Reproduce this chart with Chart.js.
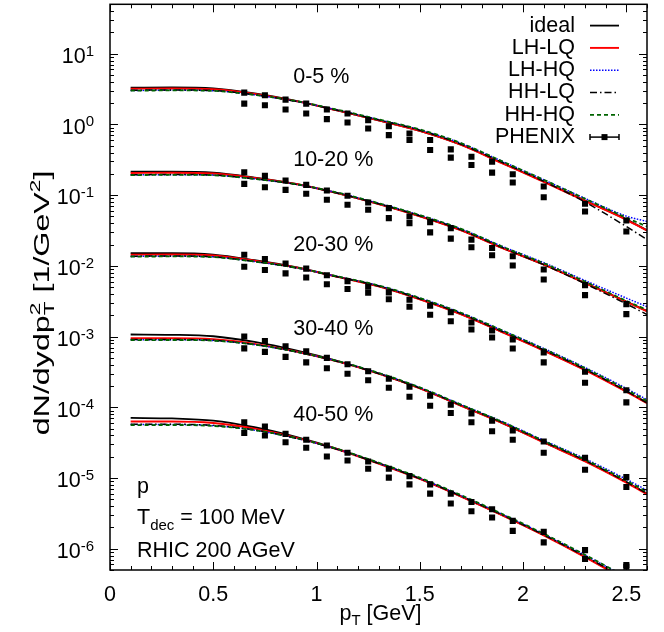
<!DOCTYPE html>
<html><head><meta charset="utf-8"><title>p spectra</title>
<script src="https://cdn.jsdelivr.net/npm/chart.js@4/dist/chart.umd.min.js"></script>
<style>html,body{margin:0;padding:0;background:#fff;overflow:hidden}canvas{display:block}</style>
</head><body>
<canvas id="chart" width="664" height="632"></canvas>
<script>
// ---------------- data ----------------
const pT = [0.1, 0.3, 0.5, 0.7, 0.9, 1.1, 1.3, 1.5, 1.7, 1.9, 2.1, 2.3, 2.5, 2.6];
const centralityLabels = ['0-5 %', '10-20 %', '20-30 %', '30-40 %', '40-50 %'];
const modelNames = ['ideal', 'LH-LQ', 'LH-HQ', 'HH-LQ', 'HH-HQ'];
const dataName = 'PHENIX';

// 0-5 %
const ideal_0_5 = [3.31, 3.33, 3.23, 2.74, 2.15, 1.58, 1.14, 0.813, 0.516, 0.284, 0.156, 0.084, 0.0454, 0.0318];
const lhlq_0_5  = [3.20, 3.22, 3.14, 2.70, 2.14, 1.58, 1.14, 0.810, 0.513, 0.281, 0.154, 0.083, 0.0448, 0.0316];
const lhhq_0_5  = [3.02, 3.05, 3.00, 2.62, 2.12, 1.60, 1.17, 0.840, 0.540, 0.300, 0.165, 0.090, 0.0505, 0.0425];
const hhlq_0_5  = [3.05, 3.07, 3.01, 2.62, 2.12, 1.59, 1.16, 0.830, 0.525, 0.290, 0.157, 0.080, 0.0360, 0.0235];
const hhhq_0_5  = [3.00, 3.03, 2.98, 2.62, 2.14, 1.62, 1.18, 0.850, 0.545, 0.300, 0.165, 0.089, 0.0480, 0.0360];
// 10-20 %
const ideal_10_20 = [0.215, 0.215, 0.208, 0.177, 0.144, 0.107, 0.0750, 0.0505, 0.0320, 0.0179, 0.01044, 0.00575, 0.00313, 0.00230];
const lhlq_10_20  = [0.206, 0.207, 0.202, 0.175, 0.144, 0.107, 0.0750, 0.0503, 0.0318, 0.0178, 0.01040, 0.00572, 0.00310, 0.00228];
const lhhq_10_20  = [0.193, 0.195, 0.192, 0.170, 0.142, 0.108, 0.0765, 0.0520, 0.0332, 0.0188, 0.01110, 0.00620, 0.00350, 0.00265];
const hhlq_10_20  = [0.194, 0.196, 0.192, 0.170, 0.142, 0.107, 0.0755, 0.0510, 0.0323, 0.0181, 0.01040, 0.00560, 0.00290, 0.00205];
const hhhq_10_20  = [0.192, 0.194, 0.191, 0.170, 0.143, 0.109, 0.0770, 0.0523, 0.0334, 0.0187, 0.01090, 0.00600, 0.00320, 0.00238];
// 20-30 %
const ideal_20_30 = [0.0151, 0.0151, 0.0144, 0.0120, 0.00957, 0.00703, 0.00516, 0.00339, 0.00208, 0.00116, 0.000638, 0.000339, 0.000169, 0.000116];
const lhlq_20_30  = [0.0144, 0.0145, 0.0140, 0.0118, 0.00950, 0.00700, 0.00514, 0.00337, 0.00206, 0.00115, 0.000632, 0.000336, 0.000166, 0.000114];
const lhhq_20_30  = [0.0136, 0.0137, 0.0134, 0.0115, 0.00940, 0.00705, 0.00525, 0.00350, 0.00216, 0.00122, 0.000680, 0.000365, 0.000185, 0.000128];
const hhlq_20_30  = [0.0137, 0.0138, 0.0134, 0.0115, 0.00935, 0.00700, 0.00518, 0.00343, 0.00211, 0.00118, 0.000650, 0.000345, 0.000170, 0.000115];
const hhhq_20_30  = [0.0135, 0.0136, 0.0133, 0.0115, 0.00945, 0.00712, 0.00530, 0.00352, 0.00217, 0.00122, 0.000670, 0.000358, 0.000178, 0.000123];
// 30-40 %
const ideal_30_40 = [1.07e-3, 1.06e-3, 1.01e-3, 8.40e-4, 6.38e-4, 4.54e-4, 3.02e-4, 1.86e-4, 1.054e-4, 5.98e-5, 3.21e-5, 1.74e-5, 8.76e-6, 6.02e-6];
const lhlq_30_40  = [9.50e-4, 9.50e-4, 9.20e-4, 7.90e-4, 6.15e-4, 4.45e-4, 2.99e-4, 1.85e-4, 1.050e-4, 5.95e-5, 3.18e-5, 1.72e-5, 8.60e-6, 5.90e-6];
const lhhq_30_40  = [9.00e-4, 9.05e-4, 8.80e-4, 7.70e-4, 6.10e-4, 4.48e-4, 3.04e-4, 1.90e-4, 1.090e-4, 6.25e-5, 3.40e-5, 1.87e-5, 9.60e-6, 6.70e-6];
const hhlq_30_40  = [9.10e-4, 9.10e-4, 8.85e-4, 7.70e-4, 6.08e-4, 4.45e-4, 3.00e-4, 1.87e-4, 1.070e-4, 6.10e-5, 3.28e-5, 1.77e-5, 8.80e-6, 6.00e-6];
const hhhq_30_40  = [8.90e-4, 8.95e-4, 8.75e-4, 7.70e-4, 6.12e-4, 4.52e-4, 3.07e-4, 1.91e-4, 1.090e-4, 6.20e-5, 3.35e-5, 1.82e-5, 9.20e-6, 6.40e-6];
// 40-50 %
const ideal_40_50 = [7.07e-5, 6.96e-5, 6.48e-5, 5.22e-5, 3.82e-5, 2.59e-5, 1.62e-5, 9.78e-6, 5.51e-6, 2.98e-6, 1.56e-6, 7.69e-7, 3.61e-7, 2.45e-7];
const lhlq_40_50  = [6.30e-5, 6.30e-5, 6.00e-5, 5.00e-5, 3.72e-5, 2.55e-5, 1.60e-5, 9.70e-6, 5.46e-6, 2.95e-6, 1.54e-6, 7.60e-7, 3.55e-7, 2.40e-7];
const lhhq_40_50  = [5.70e-5, 5.70e-5, 5.50e-5, 4.75e-5, 3.65e-5, 2.55e-5, 1.62e-5, 9.90e-6, 5.62e-6, 3.06e-6, 1.61e-6, 8.10e-7, 3.90e-7, 2.65e-7];
const hhlq_40_50  = [5.75e-5, 5.75e-5, 5.55e-5, 4.78e-5, 3.65e-5, 2.54e-5, 1.61e-5, 9.80e-6, 5.55e-6, 3.00e-6, 1.57e-6, 7.80e-7, 3.70e-7, 2.50e-7];
const hhhq_40_50  = [5.60e-5, 5.62e-5, 5.45e-5, 4.75e-5, 3.68e-5, 2.58e-5, 1.65e-5, 1.01e-5, 5.72e-6, 3.10e-6, 1.63e-6, 8.20e-7, 3.95e-7, 2.70e-7];

// PHENIX data (two points per pT bin)
const pTPhenix = [0.65, 0.75, 0.85, 0.95, 1.05, 1.15, 1.25, 1.35, 1.45, 1.55, 1.65, 1.75, 1.85, 1.95, 2.1, 2.3, 2.5];
const phenixA_0_5 = [2.82, 2.59, 2.245, 1.972, 1.623, 1.425, 1.151, 0.941, 0.745, 0.602, 0.4435, 0.350, 0.2976, 0.197, 0.1322, 0.0755, 0.0439];
const phenixB_0_5 = [1.972, 1.872, 1.623, 1.425, 1.189, 1.065, 0.877, 0.707, 0.602, 0.435, 0.339, 0.2675, 0.2083, 0.1506, 0.0935, 0.0588, 0.0307];
const phenixA_10_20 = [0.2103, 0.1872, 0.1607, 0.1398, 0.1162, 0.0978, 0.0787, 0.0655, 0.0500, 0.0416, 0.0342, 0.02349, 0.01789, 0.01366, 0.00888, 0.00534, 0.00288];
const phenixB_10_20 = [0.1444, 0.1293, 0.1189, 0.1044, 0.0859, 0.0731, 0.0621, 0.0473, 0.0402, 0.02976, 0.02426, 0.0183, 0.01411, 0.0101, 0.00642, 0.00386, 0.00208];
const phenixA_20_30 = [0.01435, 0.01252, 0.01082, 0.00914, 0.00736, 0.00609, 0.00506, 0.00422, 0.00331, 0.00273, 0.00221, 0.00158, 0.00122, 0.000908, 0.000598, 0.000318, 0.000174];
const phenixB_20_30 = [0.00972, 0.00876, 0.00782, 0.00683, 0.00549, 0.00470, 0.00417, 0.00337, 0.00264, 0.002036, 0.00165, 0.00126, 0.000972, 0.000679, 0.000432, 0.000222, 0.0001173];
const phenixA_30_40 = [1.004e-3, 8.68e-4, 7.26e-4, 6.17e-4, 5.00e-4, 4.05e-4, 3.23e-4, 2.53e-4, 1.952e-4, 1.458e-4, 1.089e-4, 8.21e-5, 6.48e-5, 4.69e-5, 3.28e-5, 1.933e-5, 1.03e-5];
const phenixB_30_40 = [6.81e-4, 6.07e-4, 5.16e-4, 4.32e-4, 3.56e-4, 2.975e-4, 2.41e-4, 1.89e-4, 1.411e-4, 1.054e-4, 8.32e-5, 6.13e-5, 4.58e-5, 3.47e-5, 2.27e-5, 1.31e-5, 7.45e-6];
const phenixA_40_50 = [6.13e-5, 5.34e-5, 4.21e-5, 3.47e-5, 2.88e-5, 2.27e-5, 1.714e-5, 1.353e-5, 1.064e-5, 8.13e-6, 6.02e-6, 4.58e-6, 3.62e-6, 2.474e-6, 1.731e-6, 9.56e-7, 5.88e-7];
const phenixB_40_50 = [4.35e-5, 3.99e-5, 3.21e-5, 2.675e-5, 2.016e-5, 1.771e-5, 1.353e-5, 1.011e-5, 8.13e-6, 6.02e-6, 4.35e-6, 3.39e-6, 2.76e-6, 1.789e-6, 1.228e-6, 7.14e-7, 5.56e-7];

// axis ticks
const xTickLabels = [0, 0.5, 1, 1.5, 2, 2.5];
const yTickExponents = [1, 0, -1, -2, -3, -4, -5, -6];

// centrality label anchors (pT, value)
const centralityLabelX = 0.887;
const centralityLabelY = [4.69, 0.309, 0.0198, 1.28e-3, 7.8e-5];

// ---------------- chart ----------------
const FONT = '"Liberation Sans", Arial, Helvetica, sans-serif';
const FS = 21.5, FS_SMALL = 15;
const fnt = s => s + 'px ' + FONT;

const curveSets = [
  [ideal_0_5, lhlq_0_5, lhhq_0_5, hhlq_0_5, hhhq_0_5],
  [ideal_10_20, lhlq_10_20, lhhq_10_20, hhlq_10_20, hhhq_10_20],
  [ideal_20_30, lhlq_20_30, lhhq_20_30, hhlq_20_30, hhhq_20_30],
  [ideal_30_40, lhlq_30_40, lhhq_30_40, hhlq_30_40, hhhq_30_40],
  [ideal_40_50, lhlq_40_50, lhhq_40_50, hhlq_40_50, hhhq_40_50]
];
const phenixSets = [
  [phenixA_0_5, phenixB_0_5], [phenixA_10_20, phenixB_10_20], [phenixA_20_30, phenixB_20_30],
  [phenixA_30_40, phenixB_30_40], [phenixA_40_50, phenixB_40_50]
];
const modelStyles = [
  {color: '#000000', dash: [], width: 1.8, order: 5},
  {color: '#ff0000', dash: [], width: 1.9, order: 4},
  {color: '#0000ff', dash: [1.5, 1.5], width: 1.5, order: 3},
  {color: '#000000', dash: [7, 3, 1.5, 3], width: 1.5, order: 2},
  {color: '#006400', dash: [4, 3], width: 1.8, order: 1}
];

const datasets = [];
curveSets.forEach((set, c) => set.forEach((vals, m) => {
  const st = modelStyles[m];
  datasets.push({
    label: modelNames[m] + ' ' + centralityLabels[c],
    data: pT.map((x, i) => ({x: x, y: vals[i]})),
    borderColor: st.color, borderDash: st.dash, borderWidth: st.width,
    pointRadius: 0, fill: false, cubicInterpolationMode: 'monotone', order: st.order
  });
}));
phenixSets.forEach((pair, c) => pair.forEach((vals) => {
  datasets.push({
    label: dataName + ' ' + centralityLabels[c],
    data: pTPhenix.map((x, i) => ({x: x, y: vals[i]})),
    showLine: false, pointStyle: 'rect', pointRadius: 4.3,
    pointBackgroundColor: '#000', pointBorderColor: '#000', pointBorderWidth: 0, order: 0
  });
}));

function line(ctx, x1, y1, x2, y2) { ctx.beginPath(); ctx.moveTo(x1, y1); ctx.lineTo(x2, y2); ctx.stroke(); }

const decor = {
  id: 'decor',
  afterDraw(chart) {
    const {ctx, chartArea: a, scales: {x, y}} = chart;
    ctx.save();
    ctx.strokeStyle = '#000'; ctx.fillStyle = '#000';
    // ticks (inward, mirrored)
    ctx.lineWidth = 1;
    for (let i = 0; i <= 26; i++) {
      const px = Math.round(x.getPixelForValue(i / 10)) + 0.5;
      const len = (i % 5 === 0) ? 8 : 4;
      line(ctx, px, a.bottom, px, a.bottom - len);
      line(ctx, px, a.top, px, a.top + len);
    }
    for (let e = -7; e <= 1; e++) {
      for (let k = 1; k <= 9; k++) {
        const v = k * Math.pow(10, e);
        if (v < y.min || v > y.max) continue;
        const py = Math.round(y.getPixelForValue(v)) + 0.5;
        const len = k === 1 ? 8 : 4;
        line(ctx, a.left, py, a.left + len, py);
        line(ctx, a.right, py, a.right - len, py);
      }
    }
    // frame
    ctx.lineWidth = 1.5;
    ctx.strokeRect(a.left, a.top, a.right - a.left, a.bottom - a.top);

    // y tick labels 10^n
    ctx.textBaseline = 'alphabetic'; ctx.textAlign = 'left';
    yTickExponents.forEach(e => {
      const py = y.getPixelForValue(Math.pow(10, e));
      const es = String(e);
      ctx.font = fnt(FS_SMALL); const ew = ctx.measureText(es).width;
      const right = a.left - 16;
      ctx.fillText(es, right - ew, py + 2);
      ctx.font = fnt(FS); const mw = ctx.measureText('10').width;
      ctx.fillText('10', right - ew - mw, py + 9.3);
    });

    // x title: p_T [GeV]
    {
      ctx.font = fnt(FS); const w1 = ctx.measureText('p').width; const w3 = ctx.measureText(' [GeV]').width;
      ctx.font = fnt(FS_SMALL); const w2 = ctx.measureText('T').width;
      const cx = (a.left + a.right) / 2 + 2; let sx = cx - (w1 + w2 + w3) / 2; const base = 620;
      ctx.font = fnt(FS); ctx.fillText('p', sx, base); sx += w1;
      ctx.font = fnt(FS_SMALL); ctx.fillText('T', sx, base + 5); sx += w2;
      ctx.font = fnt(FS); ctx.fillText(' [GeV]', sx, base);
    }

    // y title: dN/dydp_T^2 [1/GeV^2]
    {
      const stretch = 1.5;
      const segs = [
        {t: 'dN/dydp', s: FS, dy: 0},
        {stack: ['2', 'T']},
        {t: ' [1/GeV', s: FS, dy: 0},
        {t: '2', s: FS_SMALL, dy: -9},
        {t: ']', s: FS, dy: 0}
      ];
      let total = 0;
      segs.forEach(sg => {
        if (sg.stack) { ctx.font = fnt(FS_SMALL); sg.w = Math.max(ctx.measureText(sg.stack[0]).width, ctx.measureText(sg.stack[1]).width); }
        else { ctx.font = fnt(sg.s); sg.w = ctx.measureText(sg.t).width; }
        total += sg.w;
      });
      ctx.save();
      ctx.translate(41, 303);
      ctx.rotate(-Math.PI / 2);
      ctx.scale(stretch, 1);
      let u = -total / 2; const base = 7.7;
      segs.forEach(sg => {
        if (sg.stack) {
          ctx.font = fnt(FS_SMALL);
          ctx.fillText(sg.stack[0], u, base - 9);
          ctx.fillText(sg.stack[1], u, base + 5);
        } else { ctx.font = fnt(sg.s); ctx.fillText(sg.t, u, base + sg.dy); }
        u += sg.w;
      });
      ctx.restore();
    }

    // legend (inside plot, top right)
    {
      const entries = modelNames.concat([dataName]);
      const y0 = a.top + 21.3, step = 22.3;
      const sx1 = a.right - 57, sx2 = a.right - 28, tr = a.right - 72;
      ctx.font = fnt(FS); ctx.textAlign = 'right'; ctx.textBaseline = 'middle';
      entries.forEach((name, i) => {
        const yy = y0 + i * step;
        ctx.fillStyle = '#000';
        ctx.fillText(name, tr, yy);
        ctx.save();
        if (i < modelStyles.length) {
          const st = modelStyles[i];
          ctx.strokeStyle = st.color; ctx.lineWidth = st.width; ctx.setLineDash(st.dash);
          line(ctx, sx1, yy, sx2, yy);
        } else {
          ctx.strokeStyle = '#000'; ctx.lineWidth = 1.5;
          line(ctx, sx1, yy, sx2, yy);
          line(ctx, sx1, yy - 3, sx1, yy + 3);
          line(ctx, sx2, yy - 3, sx2, yy + 3);
          ctx.fillRect((sx1 + sx2) / 2 - 3, yy - 3, 6, 6);
        }
        ctx.restore();
      });
    }

    // centrality labels
    ctx.font = fnt(FS); ctx.textAlign = 'left'; ctx.textBaseline = 'middle'; ctx.fillStyle = '#000';
    centralityLabels.forEach((lab, i) => {
      ctx.fillText(lab, x.getPixelForValue(centralityLabelX), y.getPixelForValue(centralityLabelY[i]));
    });

    // info text bottom-left
    {
      ctx.textBaseline = 'alphabetic'; ctx.textAlign = 'left';
      const lx = a.left + 27;
      ctx.font = fnt(FS); ctx.fillText('p', lx, a.bottom - 77);
      let sx = lx; const b2 = a.bottom - 46;
      ctx.fillText('T', sx, b2); sx += ctx.measureText('T').width;
      ctx.font = fnt(FS_SMALL); ctx.fillText('dec', sx, b2 + 6); sx += ctx.measureText('dec').width;
      ctx.font = fnt(FS); ctx.fillText(' = 100 MeV', sx, b2);
      ctx.fillText('RHIC 200 AGeV', lx, a.bottom - 13.5);
    }
    ctx.restore();
  }
};

Chart.defaults.font.family = FONT;
new Chart(document.getElementById('chart'), {
  type: 'line',
  data: {datasets},
  options: {
    responsive: false, animation: false, devicePixelRatio: 1,
    layout: {padding: {left: 0, right: 17, top: 2, bottom: 0}},
    plugins: {legend: {display: false}, tooltip: {enabled: false}},
    scales: {
      x: {
        type: 'linear', min: 0, max: 2.6,
        afterFit(s) { s.height = 62; },
        grid: {display: false, drawTicks: false}, border: {display: false},
        ticks: {
          stepSize: 0.5, includeBounds: false, autoSkip: false, maxRotation: 0, padding: 12,
          color: '#000', font: {family: FONT, size: FS},
          callback: v => (xTickLabels.indexOf(v) >= 0 ? String(v) : '')
        }
      },
      y: {
        type: 'logarithmic', min: 5e-7, max: 50,
        afterFit(s) { s.width = 110; },
        grid: {display: false}, border: {display: false},
        ticks: {display: false}
      }
    }
  },
  plugins: [decor]
});
</script>
</body></html>
